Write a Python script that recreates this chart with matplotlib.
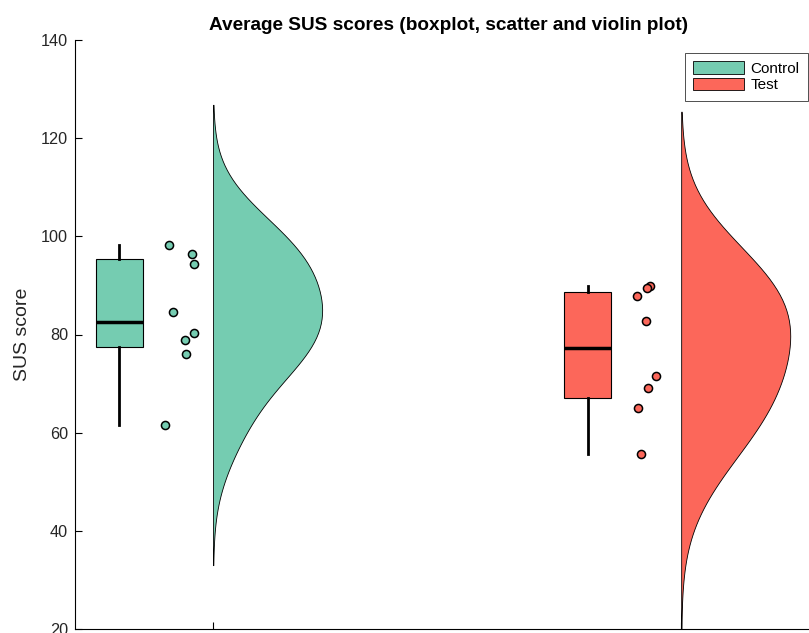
import numpy as np
import matplotlib
matplotlib.use("Agg")
from matplotlib import pyplot as plt
from matplotlib.patches import Patch

plt.rcParams["font.family"] = ["Liberation Sans", "DejaVu Sans"]

groups = ["Control", "Test"]
colors = ["#75CCB1", "#FC675A"]

control_scores = [98.2, 96.3, 94.4, 84.5, 80.4, 78.8, 76.0, 61.6]
test_scores = [89.8, 89.4, 87.9, 82.8, 71.6, 69.1, 65.0, 55.7]

# horizontal jitter of the scatter points
control_jitter = [0.906, 0.955, 0.959, 0.915, 0.959, 0.940, 0.943, 0.898]
test_jitter = [1.933, 1.928, 1.905, 1.925, 1.946, 1.929, 1.907, 1.915]

scores = [control_scores, test_scores]
jitters = [control_jitter, test_jitter]
positions = [1, 2]

text_color = "#262626"


def matlab_kde(x, n_points=100):
    """Gaussian KDE with ksdensity defaults (robust Silverman bandwidth)."""
    x = np.asarray(x)
    sig = np.median(np.abs(x - np.median(x))) / 0.6745
    bw = sig * (4 / (3 * len(x))) ** 0.2
    grid = np.linspace(x.min() - 3 * bw, x.max() + 3 * bw, n_points)
    dens = np.exp(-0.5 * ((grid[:, None] - x[None, :]) / bw) ** 2).sum(axis=1)
    dens /= len(x) * bw * np.sqrt(2 * np.pi)
    return grid, dens


def box_stats(x):
    x = np.asarray(x)
    q1, med, q3 = np.percentile(x, [25, 50, 75], method="hazen")
    return {"med": med, "q1": q1, "q3": q3, "whislo": x.min(), "whishi": x.max(), "fliers": []}


fig = plt.figure(figsize=(8.09, 6.33), dpi=100)
ax = fig.add_axes([75 / 809, 4 / 633, 748 / 809, 589 / 633])

for pos, vals, jit, c in zip(positions, scores, jitters, colors):
    # half violin
    grid, dens = matlab_kde(vals)
    width = dens / dens.max() * 0.233
    ax.fill_betweenx(grid, pos, pos + width, facecolor=c, edgecolor="black", linewidth=0.6, zorder=2)

    # scatter
    ax.scatter(jit, vals, s=34, color=c, edgecolor="black", linewidth=1.1, zorder=3)

    # boxplot
    ax.bxp([box_stats(vals)], positions=[pos - 0.2], widths=0.1, patch_artist=True,
           showcaps=False, showfliers=False, manage_ticks=False,
           boxprops=dict(facecolor=c, edgecolor="black", linewidth=0.8),
           medianprops=dict(color="black", linewidth=2.5),
           whiskerprops=dict(color="black", linewidth=2), zorder=3)

ax.set_xlim(0.705, 2.303)
ax.set_ylim(20, 140)
ax.set_yticks(np.arange(20, 141, 20))
ax.set_xticks(positions)
ax.set_xticklabels([])
ax.tick_params(direction="in", length=5, labelsize=11.7, width=0.8, labelcolor=text_color, pad=5)
ax.spines["top"].set_visible(False)
ax.spines["right"].set_visible(False)
ax.set_ylabel("SUS score", fontsize=14, labelpad=7, color=text_color)

fig.text(449 / 809, 1 - 25 / 633, "Average SUS scores (boxplot, scatter and violin plot)",
         ha="center", va="center", fontsize=13.7, fontweight="bold")

handles = [Patch(facecolor=c, edgecolor="black", linewidth=0.6, label=g) for g, c in zip(groups, colors)]
leg = fig.legend(handles=handles, loc="upper right", bbox_to_anchor=(808 / 809, 1 - 53 / 633),
                 fontsize=11, frameon=True, fancybox=False, edgecolor="black",
                 handlelength=3.3, handleheight=0.85, borderpad=0.55, labelspacing=0.15,
                 handletextpad=0.45, borderaxespad=0)
leg.get_frame().set_linewidth(0.6)

fig.savefig("out.png", dpi=100)
